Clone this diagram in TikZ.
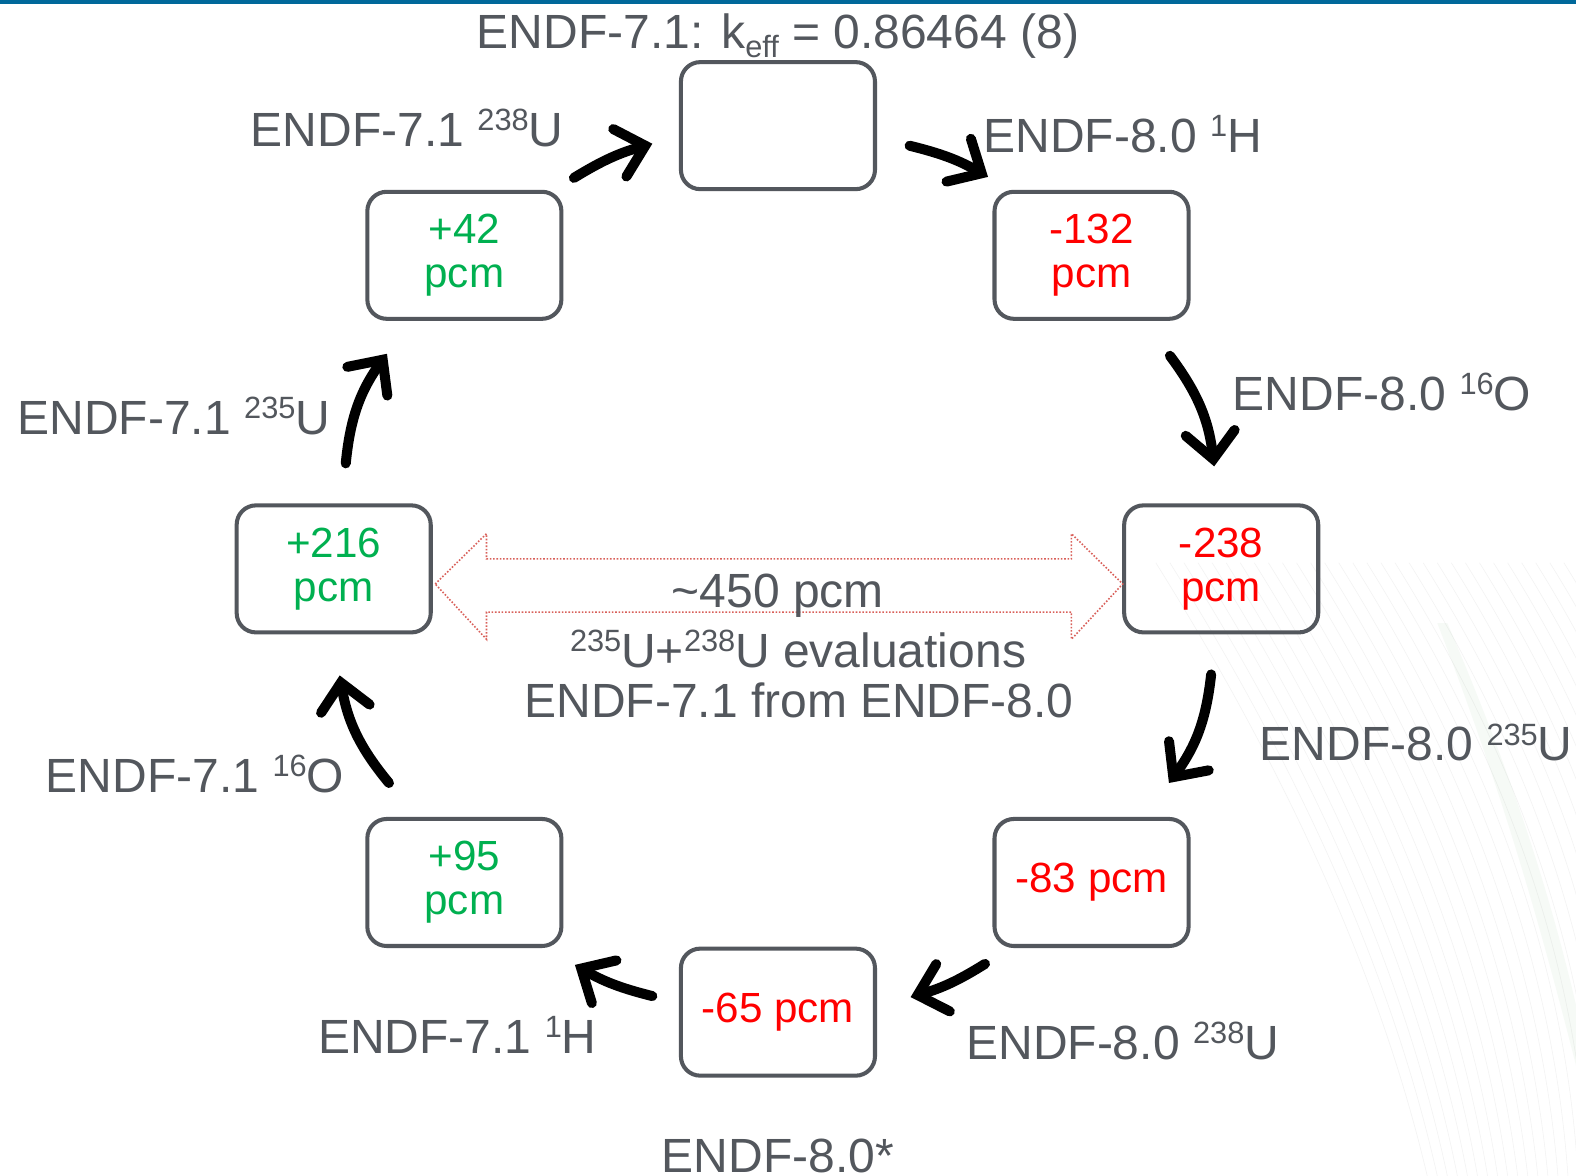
\documentclass[tikz,border=0pt]{standalone}
\usepackage{fontspec}
\setmainfont{Liberation Sans}
\usetikzlibrary{arrows.meta}
\definecolor{txt}{HTML}{53575D}
\definecolor{grn}{HTML}{00B050}
\definecolor{topblue}{HTML}{00689A}
\definecolor{dotred}{HTML}{D9605A}
\newcommand\sups[1]{\raisebox{9pt}{\fontsize{17.5}{17.5}\selectfont #1}}
\newcommand\subs[1]{\raisebox{-5pt}{\fontsize{17.5}{17.5}\selectfont #1}}
\begin{document}
\begin{tikzpicture}[x=0.0201cm,y=-0.0201cm,
  box/.style={draw=txt, line width=2.3pt, rounded corners=11pt, minimum width=3.88cm, minimum height=2.54cm, align=center, inner sep=0pt, font=\fontsize{24}{25}\selectfont},
  lbl/.style={text=txt, anchor=base, inner sep=0pt, font=\fontsize{27.3}{32}\selectfont},
  flow/.style={line width=5.7pt, line cap=round, -{Straight Barb[length=15pt,width=28pt,line cap=round]}},
  swoosh/.style={draw=gray!10, line width=0.3pt},
  dbl/.style={draw=dotred, densely dotted, line width=0.9pt},
]
\useasboundingbox (0,0) rectangle (1568,1170);
\fill[white] (0,0) rectangle (1568,1170);
% faint background lines
\begin{scope}
\clip (0,0) rectangle (1568,1170);
\foreach \i in {0,...,30}
  \draw[swoosh] ({1150+14*\i},560) .. controls ({1300+14*\i},800) and ({1380+12*\i},1000) .. ({1420+10*\i},1170);
\fill[green!30!gray, opacity=0.05] (1430,620) .. controls (1500,800) and (1540,950) .. (1568,1060) -- (1568,1000) .. controls (1540,880) and (1500,760) .. (1440,620) -- cycle;
\end{scope}
\fill[topblue] (0,0) rectangle (1568,4);

% boxes
\node[box] (b0) at (774,125) {};
\node[box,text=grn] (b1) at (462,254) {+42\\pcm};
\node[box,text=red] (b2) at (1086,254) {-132\\pcm};
\node[box,text=grn] (b3) at (332,566) {+216\\pcm};
\node[box,text=red] (b4) at (1215,566) {-238\\pcm};
\node[box,text=grn] (b5) at (462,878) {+95\\pcm};
\node[box,text=red] (b6) at (1086,878) {-83 pcm};
\node[box,text=red] (b7) at (774,1007) {-65 pcm};

% labels
\node[lbl] (t0) at (774,48) {ENDF-7.1: k\subs{eff} = 0.86464 (8)};
\node[lbl] (l1) at (405,146) {ENDF-7.1 \sups{238}U};
\node[lbl] (l2) at (1117,152) {ENDF-8.0 \sups{1}H};
\node[lbl] (l3) at (1375,408) {ENDF-8.0 \sups{16}O};
\node[lbl] (l4) at (173,432) {ENDF-7.1 \sups{235}U};
\node[lbl] (l5) at (1409,757) {ENDF-8.0 \sups{235}U};
\node[lbl] (l6) at (194,788) {ENDF-7.1 \sups{16}O};
\node[lbl] (l7) at (455,1048) {ENDF-7.1 \sups{1}H};
\node[lbl] (l8) at (1117,1054) {ENDF-8.0 \sups{238}U};
\node[lbl] (l9) at (774,1167) {ENDF-8.0*};

% double arrow
\draw[dbl] (433,581) -- (484,531) -- (484,556) -- (1066,556) -- (1066,531) -- (1117,581)
  -- (1066,636) -- (1066,609) -- (484,609) -- (484,636) -- cycle;
\node[lbl] (m1) at (774,604) {\textasciitilde450 pcm};
\node[lbl] (m2) at (794,664) {\sups{235}U+\sups{238}U evaluations};
\node[lbl] (m3) at (795,714) {ENDF-7.1 from ENDF-8.0};

% arrows
\coordinate (a1s) at (571,177); \coordinate (a1e) at (649,143);
\coordinate (a2s) at (905,145); \coordinate (a2e) at (983,176);
\coordinate (a3s) at (1164,354); \coordinate (a3e) at (1208,464);
\coordinate (a4s) at (1205,671); \coordinate (a4e) at (1163,779);
\coordinate (a5s) at (980,959); \coordinate (a5e) at (906,992);
\coordinate (a6s) at (649,991); \coordinate (a6e) at (572,960);
\coordinate (a7s) at (387,779); \coordinate (a7e) at (338,672);
\coordinate (a8s) at (344,461); \coordinate (a8e) at (385,352);
\draw[flow] (a1s) to[bend left=8] (a1e);
\draw[flow] (a2s) to[bend left=8] (a2e);
\draw[flow] (a3s) to[bend left=15] (a3e);
\draw[flow] (a4s) to[bend left=15] (a4e);
\draw[flow] (a5s) to[bend left=8] (a5e);
\draw[flow] (a6s) to[bend left=8] (a6e);
\draw[flow] (a7s) to[bend left=15] (a7e);
\draw[flow] (a8s) to[bend left=15] (a8e);
\end{tikzpicture}
\end{document}
